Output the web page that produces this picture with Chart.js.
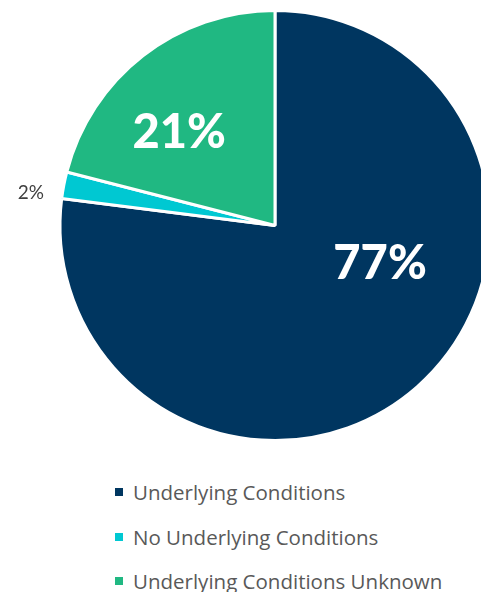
<!DOCTYPE html>
<html>
<head>
<meta charset="utf-8">
<script src="https://cdn.jsdelivr.net/npm/chart.js@4"></script>
<style>
  html, body { margin: 0; padding: 0; background: #fff; overflow: hidden; width: 481px; height: 592px; }
  #wrap { position: relative; width: 550px; height: 450px; }
  #legend { position: absolute; left: 115px; top: 470px; font-family: "Open Sans", Lato, sans-serif; font-size: 20.5px; color: #595959; }
  .legend-item { display: flex; align-items: center; height: 44.5px; white-space: nowrap; }
  .legend-color { width: 8px; height: 8px; margin-right: 10px; }
</style>
</head>
<body>
<div id="wrap"><canvas id="myPieChart" width="550" height="450"></canvas></div>
<div id="legend"></div>
<script>
var labels = ['Underlying Conditions', 'No Underlying Conditions', 'Underlying Conditions Unknown'];
var values = [77, 2, 21];
var colors = ['rgb(0, 54, 96)', 'rgb(0, 200, 210)', 'rgb(32, 184, 130)'];

// label placement per slice: [radius fraction, angle shift in degrees, color, font size, bold]
var labelStyle = [
    [0.52, -28.6, '#ffffff', 47, true],
    [1.145, -3.3, '#404040', 19, false],
    [0.62, -8.2, '#ffffff', 47, true]
];

var pctLabels = {
    id: 'pctLabels',
    afterDatasetsDraw: function (chart) {
        var ctx = chart.ctx;
        var meta = chart.getDatasetMeta(0);
        meta.data.forEach(function (arc, i) {
            var s = labelStyle[i];
            var mid = (arc.startAngle + arc.endAngle) / 2 + s[1] * Math.PI / 180;
            var r = arc.outerRadius * s[0];
            var x = arc.x + Math.cos(mid) * r;
            var y = arc.y + Math.sin(mid) * r;
            ctx.save();
            ctx.fillStyle = s[2];
            ctx.font = (s[4] ? '900 ' : '') + s[3] + 'px Lato, "Open Sans", sans-serif';
            ctx.textAlign = 'center';
            ctx.textBaseline = 'middle';
            ctx.fillText(values[i] + '%', x, y);
            ctx.restore();
        });
    }
};

var ctx = document.getElementById('myPieChart').getContext('2d');
var myPieChart = new Chart(ctx, {
    type: 'pie',
    data: {
        labels: labels,
        datasets: [{
            data: values,
            backgroundColor: colors,
            borderColor: '#ffffff',
            borderWidth: 3
        }]
    },
    options: {
        responsive: false,
        animation: false,
        layout: { padding: { top: 9, bottom: 8 } },
        plugins: {
            legend: { display: false },
            tooltip: { enabled: false }
        }
    },
    plugins: [pctLabels]
});

function updateLegend() {
    var legend = document.getElementById('legend');
    legend.innerHTML = '';
    labels.forEach(function (label, index) {
        var legendItem = document.createElement('div');
        legendItem.classList.add('legend-item');
        var legendColor = document.createElement('div');
        legendColor.classList.add('legend-color');
        legendColor.style.backgroundColor = colors[index];
        var legendText = document.createElement('div');
        legendText.innerText = label;
        legendItem.appendChild(legendColor);
        legendItem.appendChild(legendText);
        legend.appendChild(legendItem);
    });
}
updateLegend();
</script>
</body>
</html>
